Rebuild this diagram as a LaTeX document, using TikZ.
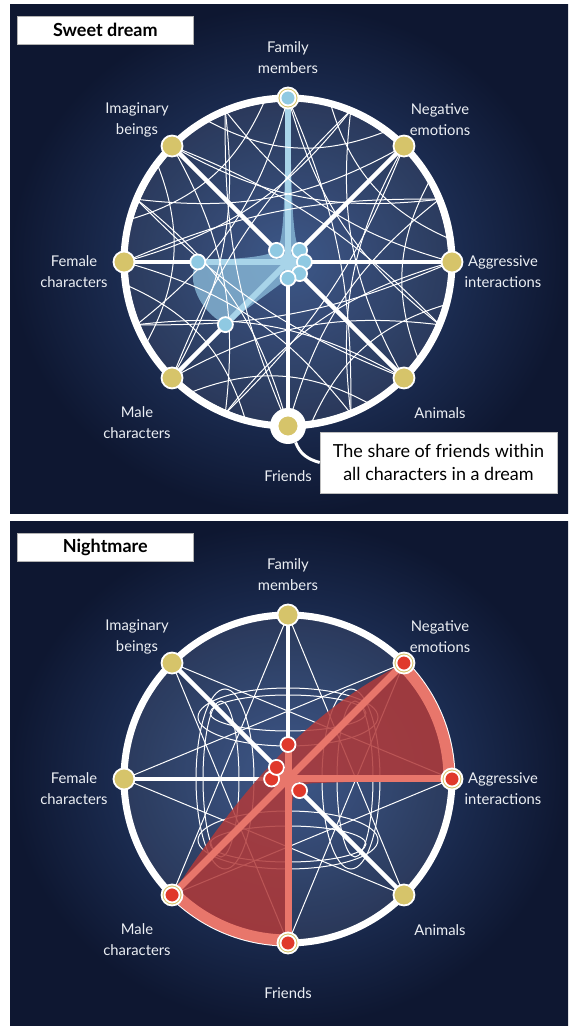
\documentclass[tikz,border=0pt]{standalone}
\usepackage{fontspec}
\setmainfont{Lato}
\usetikzlibrary{calc}

\definecolor{navyout}{HTML}{0E1731}
\definecolor{navyin}{HTML}{2F4B80}
\definecolor{labelwhite}{HTML}{ECEFF4}
\definecolor{gold}{HTML}{D6C46A}
\definecolor{skyblue}{HTML}{8FC9E2}
\definecolor{skyline}{HTML}{A8D4E9}
\definecolor{lobeblue}{HTML}{8EC0DE}
\definecolor{dotred}{HTML}{E0392B}
\definecolor{salmon}{HTML}{E8766B}
\definecolor{darkred}{HTML}{B03A3A}

\tikzset{
  panelbg/.style={inner color=navyin, outer color=navyout},
  face/.style={fill=white, fill opacity=0.07},
  rim/.style={draw=white, line width=7pt},
  spoke/.style={draw=white, line width=4.5pt},
  mesh/.style={draw=white, line width=1pt},
  golddot/.style={circle, fill=gold, draw=white, line width=1.8pt, minimum size=21pt, inner sep=0pt},
  halo/.style={circle, fill=white, minimum size=36pt, inner sep=0pt},
  bluedot/.style={circle, fill=skyblue, draw=white, line width=1.8pt, minimum size=15pt, inner sep=0pt},
  reddot/.style={circle, fill=dotred, draw=white, line width=1.8pt, minimum size=15pt, inner sep=0pt},
  bluefill/.style={fill=lobeblue, fill opacity=0.75},
  blueline/.style={draw=skyline, line width=6pt, line cap=round},
  redfill/.style={fill=darkred, fill opacity=0.86},
  redline/.style={draw=salmon, line width=7pt, line cap=round},
  axislabel/.style={text=labelwhite, font=\fontsize{14.8}{21}\selectfont, align=center, inner sep=0pt},
  titlebox/.style={fill=white, draw=black!30, line width=0.6pt, minimum width=176pt, minimum height=28pt, font=\fontsize{18}{20}\selectfont\bfseries, inner sep=0pt},
  notebox/.style={fill=white, draw=black!25, line width=0.6pt, minimum width=237pt, minimum height=61pt, align=center, font=\fontsize{18}{23.5}\selectfont, inner sep=0pt},
}

\begin{document}
\begin{tikzpicture}[x=1pt, y=1pt]
  \useasboundingbox (0,0) rectangle (568,1026);
  \fill[white] (0,0) rectangle (568,1026);
  \shade[panelbg] (10,512) rectangle (568,1021);
  \shade[panelbg] (10,0) rectangle (568,504);

  % sweet dream
  \begin{scope}[shift={(288,764)}]
    \foreach \n/\ang/\v in {fam/90/1, neg/45/0.1, agg/0/0.1, ani/-45/0.1, fri/-90/0.1, mal/-135/0.54, fem/180/0.55, ima/135/0.1} {
      \coordinate (a-\n) at (\ang:164);
      \coordinate (a-\n-v) at (\ang:164*\v);
    }
    \coordinate (a-c) at (0,0);
    \fill[face] (a-c) circle (164);
    \fill[bluefill] ($(a-fam)+(-2,0)$) -- ($(a-fam)+(2,0)$) .. controls (3,60) and (5,22) .. (a-neg-v)
      -- (a-agg-v) -- (a-ani-v) -- (a-fri-v) -- (a-mal-v)
      .. controls (-95,-45) and (-101,-10) .. (a-fem-v)
      .. controls (-60,4) and (-25,3) .. (a-ima-v)
      .. controls (-4,20) and (-3,60) .. cycle;
    \foreach \n in {fam,neg,agg,ani,fri,mal,fem,ima}
      \draw[blueline] (a-c) -- (a-\n-v);
    \begin{scope}
      \clip (a-c) circle (164);
      \foreach \a in {0,22.5,...,337.5}
        \draw[mesh] (\a:164) to[bend left=18] (\a+112.5:164);
      \foreach \a in {0,45,...,315} {
        \draw[mesh] (\a+22.5:164) to[bend right=12] (\a+180:164);
        \draw[mesh] (\a+8:164) to[bend left=25] (\a+75:164);
        \draw[mesh] (\a+30:164) to[bend right=20] (\a+85:164);
      }
    \end{scope}
    \draw[rim] (a-c) circle (164);
    \foreach \n in {fam,neg,agg,ani,fri,mal,fem,ima}
      \draw[spoke] (a-\n) -- (a-\n-v);
    \node[halo] (a-fri-halo) at (a-fri) {};
    \foreach \n in {fam,neg,agg,ani,fri,mal,fem,ima}
      \node[golddot] (a-\n-dot) at (a-\n) {};
    \foreach \n in {fam,neg,agg,ani,fri,mal,fem,ima}
      \node[bluedot] (a-\n-val) at (a-\n-v) {};
    \foreach \n/\t/\lx/\ly in {fam/{Family\\members}/0/204, ima/{Imaginary\\beings}/-151/142,
        neg/{Negative\\emotions}/152/142, fem/{Female\\characters}/-214/-10,
        agg/{Aggressive\\interactions}/215/-10, mal/{Male\\characters}/-151/-161,
        ani/{Animals}/152/-151, fri/{Friends}/0/-214}
      \node[axislabel] (a-\n-lbl) at (\lx,\ly) {\t};
  \end{scope}
  \node[titlebox] (a-title) at (105.3,996) {Sweet dream};
  \node[notebox] (note) at (438.5,563.5) {The share of friends within\\all characters in a dream};
  \draw[white, line width=3pt] (a-fri-halo.-65) to[out=-70, in=165] (note.west);

  % nightmare
  \begin{scope}[shift={(288,247)}]
    \foreach \n/\ang/\v in {fam/90/0.21, neg/45/1, agg/0/1, ani/-45/0.1, fri/-90/1, mal/-135/1, fem/180/0.1, ima/135/0.1} {
      \coordinate (b-\n) at (\ang:164);
      \coordinate (b-\n-v) at (\ang:164*\v);
    }
    \coordinate (b-c) at (0,0);
    \fill[face] (b-c) circle (164);
    \foreach \a in {0,45,...,315}
      \draw[mesh] (\a:164) -- (\a+135:164);
    \draw[mesh] (0,62) ellipse (90 and 29);
    \draw[mesh] (0,-61) ellipse (90 and 29);
    \draw[mesh] (-63,0) ellipse (29 and 90);
    \draw[mesh] (63,0) ellipse (29 and 90);
    \draw[mesh] (0,66) ellipse (78 and 18);
    \draw[mesh] (0,-65) ellipse (78 and 18);
    \draw[mesh] (-67,0) ellipse (18 and 78);
    \draw[mesh] (67,0) ellipse (18 and 78);
    \draw[rim] (b-c) circle (164);
    \foreach \n in {fam,neg,agg,ani,fri,mal,fem,ima}
      \draw[spoke] (b-\n) -- (b-\n-v);
    \fill[redfill] (b-mal) .. controls (-50,-15) and (15,65) .. (b-neg)
      arc[start angle=45, end angle=0, radius=164]
      -- (30,-4) .. controls (10,-4) and (4,-10) .. (4,-30)
      -- (b-fri) arc[start angle=270, end angle=225, radius=164] -- cycle;
    \foreach \n in {fam,neg,agg,ani,fri,mal,fem,ima}
      \draw[redline] (b-c) -- (b-\n-v);
    \draw[redline, line width=11pt, line cap=butt] (45:161) arc[start angle=45, end angle=0, radius=161];
    \draw[redline, line width=11pt, line cap=butt] (270:161) arc[start angle=270, end angle=225, radius=161];
    \foreach \n in {fam,neg,agg,ani,fri,mal,fem,ima}
      \node[golddot] (b-\n-dot) at (b-\n) {};
    \foreach \n in {fam,neg,agg,ani,fri,mal,fem,ima}
      \node[reddot] (b-\n-val) at (b-\n-v) {};
    \foreach \n/\t/\lx/\ly in {fam/{Family\\members}/0/204, ima/{Imaginary\\beings}/-151/142,
        neg/{Negative\\emotions}/152/142, fem/{Female\\characters}/-214/-10,
        agg/{Aggressive\\interactions}/215/-10, mal/{Male\\characters}/-151/-161,
        ani/{Animals}/152/-151, fri/{Friends}/0/-214}
      \node[axislabel] (b-\n-lbl) at (\lx,\ly) {\t};
  \end{scope}
  \node[titlebox] (b-title) at (105.3,479) {Nightmare};
\end{tikzpicture}
\end{document}
